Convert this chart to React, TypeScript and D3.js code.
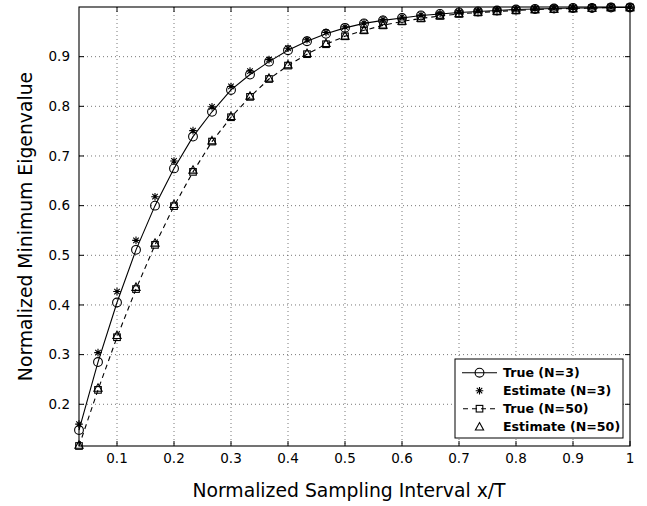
import React from "react";
import * as d3 from "d3";

const xs: number[] = d3.range(1, 31).map((k) => k / 30);

const trueN3: number[] = [
  0.148, 0.285, 0.405, 0.511, 0.600, 0.675, 0.739, 0.789, 0.833, 0.864,
  0.890, 0.913, 0.931, 0.946, 0.958, 0.967, 0.973, 0.978, 0.983, 0.986,
  0.989, 0.991, 0.993, 0.995, 0.996, 0.997, 0.998, 0.998, 0.999, 0.999,
];
const estN3: number[] = [
  0.160, 0.304, 0.427, 0.530, 0.618, 0.690, 0.751, 0.799, 0.840, 0.871,
  0.894, 0.917, 0.934, 0.949, 0.960, 0.968, 0.975, 0.980, 0.984, 0.987,
  0.990, 0.992, 0.994, 0.995, 0.996, 0.997, 0.998, 0.999, 0.999, 1.0,
];
const trueN50: number[] = [
  0.116, 0.229, 0.335, 0.432, 0.521, 0.599, 0.668, 0.729, 0.778, 0.819,
  0.855, 0.882, 0.905, 0.925, 0.941, 0.953, 0.963, 0.971, 0.977, 0.982,
  0.986, 0.989, 0.991, 0.993, 0.995, 0.996, 0.997, 0.998, 0.999, 0.999,
];
const estN50: number[] = [
  0.118, 0.233, 0.339, 0.436, 0.525, 0.603, 0.672, 0.731, 0.780, 0.821,
  0.857, 0.884, 0.907, 0.927, 0.942, 0.954, 0.964, 0.972, 0.978, 0.983,
  0.987, 0.990, 0.992, 0.994, 0.995, 0.996, 0.997, 0.998, 0.999, 0.999,
];

const xTicks: number[] = [0.1, 0.2, 0.3, 0.4, 0.5, 0.6, 0.7, 0.8, 0.9, 1];
const yTicks: number[] = [0.2, 0.3, 0.4, 0.5, 0.6, 0.7, 0.8, 0.9];
const legendLabels: string[] = ["True (N=3)", "Estimate (N=3)", "True (N=50)", "Estimate (N=50)"];

const W = 647;
const H = 506;
const L = 79;
const R = 630;
const T = 7;
const B = 446;
const FONT = "'DejaVu Sans', sans-serif";

const x = d3.scaleLinear().domain([1 / 30, 1]).range([L, R]);
const y = d3.scaleLinear().domain([0.116, 1]).range([B, T]);

type MarkerKind = "circle" | "star" | "square" | "triangle";

function Marker({ kind, cx, cy }: { kind: MarkerKind; cx: number; cy: number }) {
  const common = { fill: "none", stroke: "#000", strokeWidth: 1.1 };
  if (kind === "circle") return <circle cx={cx} cy={cy} r={4.4} {...common} />;
  if (kind === "square") return <rect x={cx - 3.3} y={cy - 3.3} width={6.6} height={6.6} {...common} />;
  if (kind === "triangle") {
    const s = 4.1;
    return <path d={`M${cx},${cy - s}L${cx + s},${cy + s * 0.8}L${cx - s},${cy + s * 0.8}Z`} {...common} />;
  }
  const s = 3.8;
  const d2 = s * 0.72;
  return (
    <path
      d={`M${cx},${cy - s}V${cy + s}M${cx - s},${cy}H${cx + s}M${cx - d2},${cy - d2}L${cx + d2},${cy + d2}M${cx - d2},${cy + d2}L${cx + d2},${cy - d2}`}
      {...common}
    />
  );
}

export default function App() {
  const line = d3
    .line<number>()
    .x((_, i) => x(xs[i]))
    .y((v) => y(v));

  const tickLen = 5;

  const legendX = 455;
  const legendY = 359;
  const legendW = 168;
  const legendH = 79;
  const rowY = (i: number) => legendY + 13.7 + i * 18;

  return (
    <svg width={W} height={H} style={{ position: "absolute", left: 0, top: 0, background: "#fff" }}>
      <rect x={0} y={0} width={W} height={H} fill="#fff" />
      {/* grid */}
      <g stroke="#555" strokeWidth={0.8} strokeDasharray="1 3">
        {xTicks.filter((t) => t < 1).map((t) => (
          <line key={"gx" + t} x1={x(t)} x2={x(t)} y1={T} y2={B} />
        ))}
        {yTicks.map((t) => (
          <line key={"gy" + t} x1={L} x2={R} y1={y(t)} y2={y(t)} />
        ))}
      </g>
      {/* data lines */}
      <path d={line(trueN3) || ""} fill="none" stroke="#000" strokeWidth={1.1} />
      <path d={line(trueN50) || ""} fill="none" stroke="#000" strokeWidth={1.1} strokeDasharray="5 4" />
      {/* markers */}
      {trueN3.map((v, i) => <Marker key={"a" + i} kind="circle" cx={x(xs[i])} cy={y(v)} />)}
      {estN3.map((v, i) => <Marker key={"b" + i} kind="star" cx={x(xs[i])} cy={y(v)} />)}
      {trueN50.map((v, i) => <Marker key={"c" + i} kind="square" cx={x(xs[i])} cy={y(v)} />)}
      {estN50.map((v, i) => <Marker key={"d" + i} kind="triangle" cx={x(xs[i])} cy={y(v)} />)}
      {/* axes box */}
      <rect x={L} y={T} width={R - L} height={B - T} fill="none" stroke="#000" strokeWidth={1.1} />
      <g stroke="#000" strokeWidth={1}>
        {xTicks.map((t) => (
          <g key={"tx" + t}>
            <line x1={x(t)} x2={x(t)} y1={B} y2={B - tickLen} />
            <line x1={x(t)} x2={x(t)} y1={T} y2={T + tickLen} />
          </g>
        ))}
        {yTicks.map((t) => (
          <g key={"ty" + t}>
            <line x1={L} x2={L + tickLen} y1={y(t)} y2={y(t)} />
            <line x1={R} x2={R - tickLen} y1={y(t)} y2={y(t)} />
          </g>
        ))}
      </g>
      <g fontFamily={FONT} fontSize={13.5} fill="#000">
        {xTicks.map((t) => (
          <text key={"lx" + t} x={x(t)} y={463} textAnchor="middle">
            {d3.format("~g")(t)}
          </text>
        ))}
        {yTicks.map((t) => (
          <text key={"ly" + t} x={70} y={y(t) + 4.8} textAnchor="end">
            {d3.format(".1f")(t)}
          </text>
        ))}
      </g>
      <text x={349} y={497} textAnchor="middle" fontFamily={FONT} fontSize={18.8}>
        Normalized Sampling Interval x/T
      </text>
      <text
        transform={`translate(32,${(T + B) / 2}) rotate(-90)`}
        textAnchor="middle"
        fontFamily={FONT}
        fontSize={18.8}
      >
        Normalized Minimum Eigenvalue
      </text>
      {/* legend */}
      <rect x={legendX} y={legendY} width={legendW} height={legendH} fill="#fff" stroke="#000" strokeWidth={1} />
      <line x1={462} x2={497} y1={rowY(0)} y2={rowY(0)} stroke="#000" strokeWidth={1.1} />
      <Marker kind="circle" cx={479.5} cy={rowY(0)} />
      <Marker kind="star" cx={479.5} cy={rowY(1)} />
      <line x1={462} x2={497} y1={rowY(2)} y2={rowY(2)} stroke="#000" strokeWidth={1.1} strokeDasharray="5 4" strokeDashoffset={-1} />
      <Marker kind="square" cx={479.5} cy={rowY(2)} />
      <Marker kind="triangle" cx={479.5} cy={rowY(3)} />
      <g fontFamily={FONT} fontSize={12.6} fontWeight="bold" fill="#000">
        {legendLabels.map((lab, i) => (
          <text key={lab} x={503} y={rowY(i) + 4.6}>
            {lab}
          </text>
        ))}
      </g>
    </svg>
  );
}
